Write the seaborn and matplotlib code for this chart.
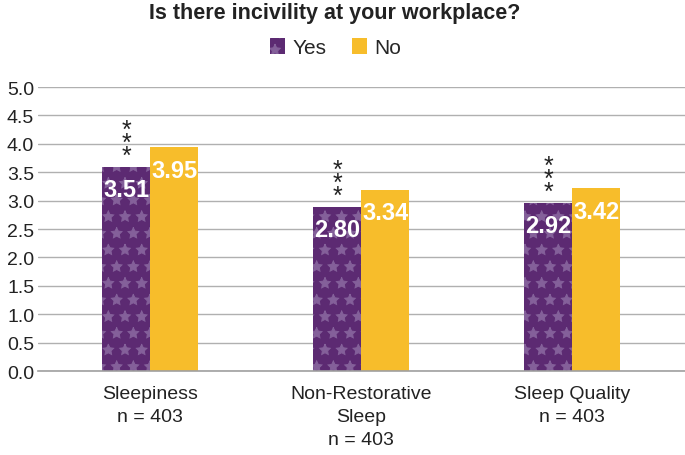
import pandas as pd
import matplotlib
matplotlib.use('Agg')
import matplotlib.pyplot as plt
import seaborn as sns

# Values
categories = ['Sleepiness\nn = 403', 'Non-Restorative\nSleep\nn = 403', 'Sleep Quality\nn = 403']
groups = ['Yes', 'No']
yes_heights = [3.59, 2.89, 2.96]
no_heights = [3.94, 3.19, 3.22]
yes_labels = ['3.51', '2.80', '2.92']
no_labels = ['3.95', '3.34', '3.42']
y_ticks = [0.0, 0.5, 1.0, 1.5, 2.0, 2.5, 3.0, 3.5, 4.0, 4.5, 5.0]

purple = '#5c2a72'
yellow = '#f7bd2b'
pattern = '#84609a'

data = pd.DataFrame({
    'Category': categories * 2,
    'Group': ['Yes'] * 3 + ['No'] * 3,
    'Score': yes_heights + no_heights,
})

sns.set_theme(style='white')
plt.rcParams['font.family'] = ['Liberation Sans', 'DejaVu Sans']
plt.rcParams['hatch.linewidth'] = 0.7

fig = plt.figure(figsize=(6.85, 4.56), dpi=100)
ax = fig.add_axes([0.056, 0.184, 0.944, 0.623])

sns.barplot(data=data, x='Category', y='Score', hue='Group', hue_order=groups,
            palette={'Yes': purple, 'No': yellow}, width=0.455, saturation=1,
            linewidth=0, ax=ax, legend=False)

# patterned fill on the "Yes" bars
for bar in ax.containers[0]:
    bar.set_hatch('*')
    bar.set_edgecolor(pattern)
    bar.set_linewidth(0)

# value labels inside bar tops and significance stars
for bar, lab in zip(ax.containers[0], yes_labels):
    cx = bar.get_x() + bar.get_width() / 2
    top = bar.get_height()
    ax.text(cx, top - 0.2, lab, ha='center', va='top', color='white',
            fontsize=17, fontweight='bold')
    ax.text(cx, top - 0.02, '*\n*\n*', ha='center', va='bottom', color='#222222',
            fontsize=18, linespacing=0.42)
for bar, lab in zip(ax.containers[1], no_labels):
    cx = bar.get_x() + bar.get_width() / 2
    ax.text(cx, bar.get_height() - 0.2, lab, ha='center', va='top', color='white',
            fontsize=17, fontweight='bold')

ax.set_ylim(0, 5)
ax.set_xlim(-0.531, 2.535)
ax.set_yticks(y_ticks)
ax.set_yticklabels([f'{t:.1f}' for t in y_ticks], fontsize=14, color='#222222')
ax.tick_params(axis='x', labelsize=14, colors='#222222', length=0, pad=10)
ax.tick_params(axis='y', length=0, pad=3)
for lab in ax.get_xticklabels():
    lab.set_linespacing(1.45)
ax.yaxis.grid(True, color='#b0b0b0', linewidth=1)
ax.set_axisbelow(True)
for s in ['top', 'right', 'left']:
    ax.spines[s].set_visible(False)
ax.spines['bottom'].set_color('#a0a0a0')
ax.spines['bottom'].set_linewidth(1.2)
ax.set_xlabel('')
ax.set_ylabel('')

handles = [plt.Rectangle((0, 0), 1, 1, facecolor=purple, edgecolor=pattern, hatch='*', linewidth=0),
           plt.Rectangle((0, 0), 1, 1, facecolor=yellow, linewidth=0)]
fig.legend(handles, groups, loc='center', bbox_to_anchor=(0.49, 0.893), ncol=2, frameon=False,
           fontsize=15, handlelength=0.75, handleheight=0.75, handletextpad=0.35,
           columnspacing=1.2)
fig.suptitle('Is there incivility at your workplace?', x=0.488, y=0.993,
             fontsize=15.5, fontweight='bold', color='#222222')

fig.savefig('out.png', dpi=100)
